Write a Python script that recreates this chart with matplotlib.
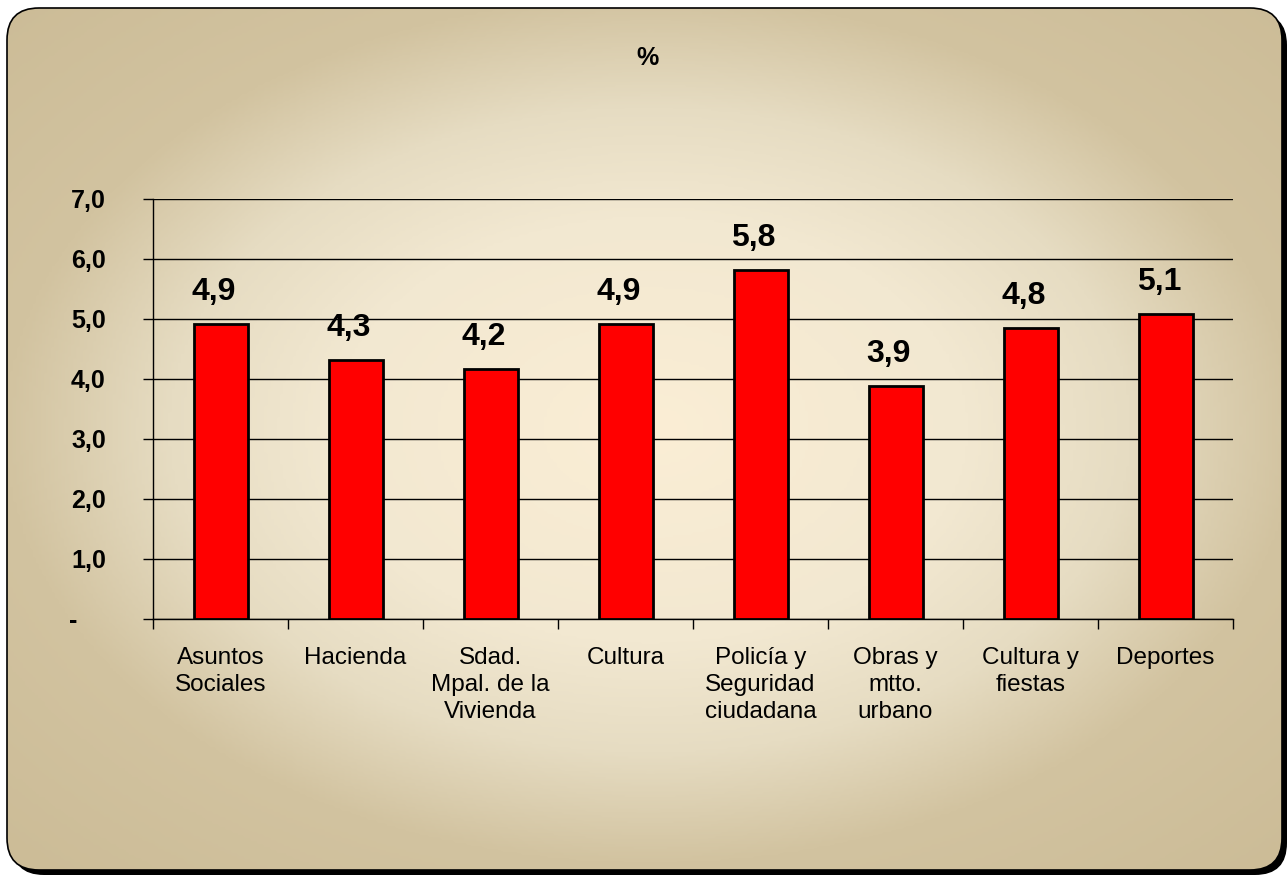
import numpy as np
import matplotlib.pyplot as plt
from matplotlib.patches import FancyBboxPatch
from matplotlib.colors import LinearSegmentedColormap

plt.rcParams['font.family'] = ['Liberation Sans', 'DejaVu Sans']

categorias = ["Asuntos\nSociales", "Hacienda", "Sdad.\nMpal. de la\nVivienda", "Cultura",
              "Policía y\nSeguridad\nciudadana", "Obras y\nmtto.\nurbano", "Cultura y\nfiestas", "Deportes"]
valores = [4.92, 4.32, 4.17, 4.92, 5.82, 3.88, 4.85, 5.08]
etiquetas = ["4,9", "4,3", "4,2", "4,9", "5,8", "3,9", "4,8", "5,1"]
yticks = [0, 1, 2, 3, 4, 5, 6, 7]
ytick_labels = ["-    ", "1,0", "2,0", "3,0", "4,0", "5,0", "6,0", "7,0"]

W, H = 1288, 876
fig = plt.figure(figsize=(W / 100, H / 100), dpi=100)
fig.patch.set_facecolor("white")

# fondo con esquinas redondeadas y degradado radial
bg = fig.add_axes([0, 0, 1, 1])
bg.set_xlim(0, W)
bg.set_ylim(H, 0)
bg.axis("off")

x0, y0, x1, y1 = 7, 8, 1282, 870
sombra = FancyBboxPatch((x0 + 5, y0 + 5), x1 - x0, y1 - y0,
                        boxstyle="round,pad=0,rounding_size=32", fc="black", ec="none")
bg.add_patch(sombra)
caja = FancyBboxPatch((x0, y0), x1 - x0, y1 - y0,
                      boxstyle="round,pad=0,rounding_size=32", fc="none", ec="black", lw=1.2, zorder=3)
bg.add_patch(caja)

gx, gy = np.meshgrid(np.linspace(0, W, 400), np.linspace(0, H, 300))
r = np.sqrt(((gx - 650) / 640) ** 2 + ((gy - 430) / 430) ** 2)
cmap = LinearSegmentedColormap.from_list(
    "fondo", [(0, "#FBEED5"), (0.35, "#F2E8D1"), (0.53, "#E6DCC2"), (0.71, "#D2C3A0"), (1, "#CCBC97")])
img = bg.imshow(r, cmap=cmap, extent=[0, W, H, 0], vmin=0, vmax=1.42, zorder=2, aspect="auto")
img.set_clip_path(caja)

# grafico de barras
ax = fig.add_axes([153 / W, 1 - 619 / H, 1080 / W, 420 / H])
ax.patch.set_alpha(0)
x = np.arange(len(categorias))
ax.bar(x, valores, width=0.4, color="#FF0000", edgecolor="black", linewidth=2, zorder=3)
for xi, v, t in zip(x, valores, etiquetas):
    ax.text(xi - 0.05, v + 0.28, t, ha="center", va="bottom", fontsize=23, fontweight="bold")

ax.set_xlim(-0.5, len(categorias) - 0.5)
ax.set_ylim(0, 7)
ax.set_yticks(yticks)
ax.set_yticklabels(ytick_labels, fontsize=18, fontweight="bold")
ax.yaxis.grid(True, color="black", linewidth=1)
ax.set_axisbelow(True)
ax.tick_params(axis="y", length=7, width=1, pad=27)

ax.set_xticks(np.arange(len(categorias) + 1) - 0.5, minor=False)
ax.set_xticklabels([])
ax.set_xticks(x, minor=True)
ax.set_xticklabels(categorias, minor=True, fontsize=17.5, linespacing=1.3, va="top")
ax.tick_params(axis="x", which="major", length=7, width=1)
ax.tick_params(axis="x", which="minor", length=0, pad=20)

for s in ["top", "right"]:
    ax.spines[s].set_visible(False)
ax.spines["left"].set_linewidth(1)
ax.spines["bottom"].set_linewidth(1)

fig.text(648 / W, 1 - 58 / H, "%", ha="center", va="center", fontsize=18, fontweight="bold")

fig.savefig("out.png", dpi=100)
